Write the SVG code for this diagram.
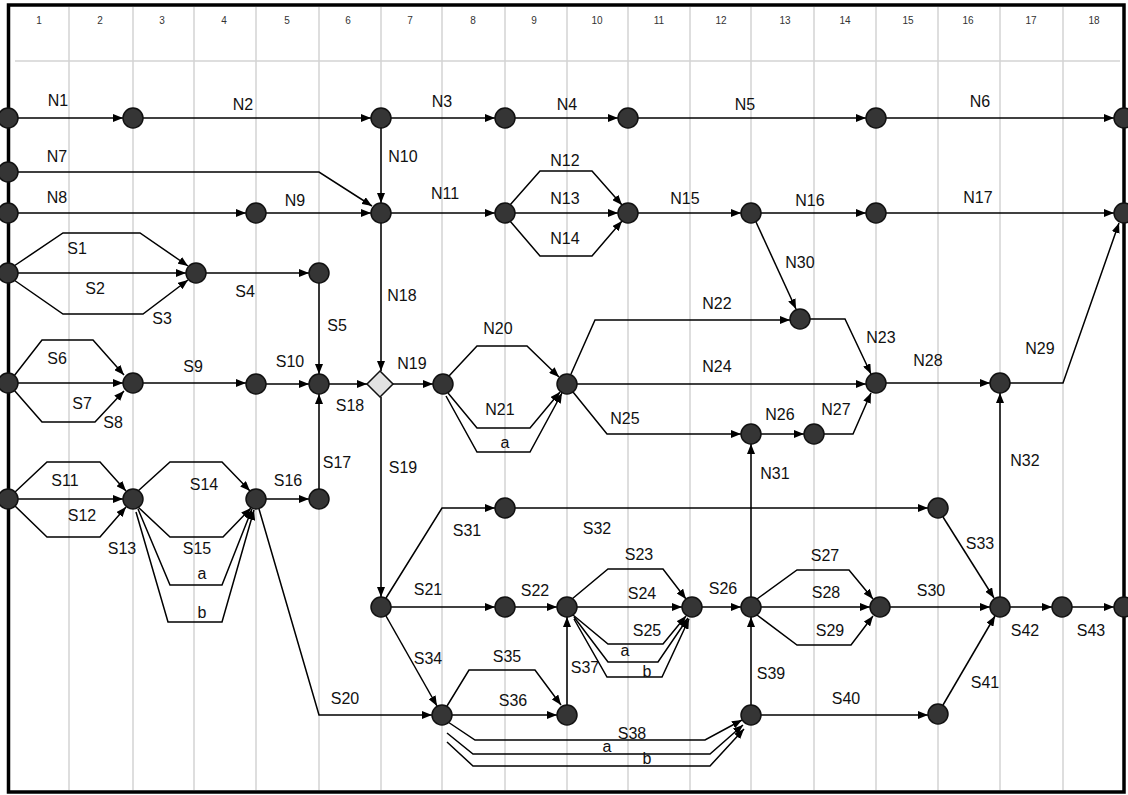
<svg xmlns="http://www.w3.org/2000/svg" width="1128" height="795" viewBox="0 0 1128 795">
<defs>
<marker id="arr" viewBox="0 0 10 8" refX="10" refY="4" markerWidth="10" markerHeight="8" markerUnits="userSpaceOnUse" orient="auto">
<path d="M0,0 L10,4 L0,8 z" fill="#000"/>
</marker>
<style>
.grid{stroke:#d4d4d4;stroke-width:1.5;fill:none}
.col{font-family:"Liberation Sans",Arial,sans-serif;font-size:10px;fill:#333;text-anchor:middle}
.e{fill:none;stroke:#000;stroke-width:1.5;marker-end:url(#arr)}
.n{fill:#353535;stroke:#111;stroke-width:1.5}
.d{fill:#e2e2e2;stroke:#111;stroke-width:1.5}
.t{font-family:"Liberation Sans",Arial,sans-serif;font-size:16px;fill:#111;text-anchor:middle}
</style>
</defs>
<rect x="0" y="0" width="1128" height="795" fill="#fff"/>
<g id="grid">
<path class="grid" d="M69,7V790M133,7V790M194,7V790M256,7V790M319,7V790M381,7V790M442,7V790M505,7V790M567,7V790M628,7V790M690,7V790M751,7V790M814,7V790M876,7V790M938,7V790M1000,7V790M1063,7V790M15,61H1120"/>
<text class="col" x="39" y="24">1</text><text class="col" x="100" y="24">2</text><text class="col" x="162" y="24">3</text><text class="col" x="224" y="24">4</text><text class="col" x="287" y="24">5</text><text class="col" x="348" y="24">6</text><text class="col" x="410" y="24">7</text><text class="col" x="473" y="24">8</text><text class="col" x="534" y="24">9</text><text class="col" x="597" y="24">10</text><text class="col" x="659" y="24">11</text><text class="col" x="721" y="24">12</text><text class="col" x="785" y="24">13</text><text class="col" x="845" y="24">14</text><text class="col" x="908" y="24">15</text><text class="col" x="968" y="24">16</text><text class="col" x="1031" y="24">17</text><text class="col" x="1094" y="24">18</text>
</g>
<rect id="frame" x="8.5" y="5" width="1115.5" height="787" fill="none" stroke="#000" stroke-width="3.5"/>
<g id="connectors">
<path class="e" d="M18,118H123"/><path class="e" d="M143,118H371"/><path class="e" d="M391,118H495"/><path class="e" d="M515,118H618"/><path class="e" d="M638,118H866"/><path class="e" d="M886,118H1114"/>
<path class="e" d="M18,172H319L372,206"/>
<path class="e" d="M18,213H246"/><path class="e" d="M266,213H371"/>
<path class="e" d="M381,128V203"/><path class="e" d="M391,213H495"/>
<path class="e" d="M510,205L540,171H592L622,205"/>
<path class="e" d="M515,213H618"/>
<path class="e" d="M510,221L540,256H592L622,221"/>
<path class="e" d="M638,213H741"/><path class="e" d="M761,213H866"/><path class="e" d="M886,213H1114"/>
<path class="e" d="M756,222L796,309"/>
<path class="e" d="M381,223V371"/>
<path class="e" d="M393,384H433"/>
<path class="e" d="M449,376L477,346H527L559,377"/>
<path class="e" d="M448,393L477,428H530L560,392"/>
<path class="e" d="M446,396L477,452H530L562,393"/>
<path class="e" d="M571,374L595,320H790"/>
<path class="e" d="M577,384H866"/>
<path class="e" d="M573,392L607,434H741"/>
<path class="e" d="M761,434H804"/>
<path class="e" d="M824,434H853L871,393"/>
<path class="e" d="M810,319H845L871,374"/>
<path class="e" d="M886,383H990"/>
<path class="e" d="M1010,383H1063L1119,223"/>
<path class="e" d="M751,597V444"/>
<path class="e" d="M1000,597V393"/>
<path class="e" d="M14,266L63,233H140L188,266"/>
<path class="e" d="M18,273H186"/>
<path class="e" d="M14,280L63,314H143L188,280"/>
<path class="e" d="M206,273H309"/>
<path class="e" d="M319,283V374"/>
<path class="e" d="M14,376L42,340H93L124,375"/>
<path class="e" d="M18,383H123"/>
<path class="e" d="M14,390L42,422H95L124,391"/>
<path class="e" d="M143,383H246"/>
<path class="e" d="M266,384H309"/>
<path class="e" d="M329,384H367"/>
<path class="e" d="M319,489V394"/>
<path class="e" d="M14,493L47,462H100L126,491"/>
<path class="e" d="M18,499H123"/>
<path class="e" d="M14,505L47,537H100L126,507"/>
<path class="e" d="M138,491L170,462H222L250,491"/>
<path class="e" d="M138,507L170,537H223L251,508"/>
<path class="e" d="M138,509L170,585H222L252,509"/>
<path class="e" d="M136,512L168,622H222L254,510"/>
<path class="e" d="M266,499H309"/>
<path class="e" d="M259,509L319,715H432"/>
<path class="e" d="M381,397V597"/>
<path class="e" d="M386,598L442,508H495"/>
<path class="e" d="M515,508H928"/>
<path class="e" d="M943,517L994,598"/>
<path class="e" d="M391,607H495"/>
<path class="e" d="M515,607H557"/>
<path class="e" d="M572,599L608,569H663L686,599"/>
<path class="e" d="M577,607H682"/>
<path class="e" d="M573,615L608,644H663L686,616"/>
<path class="e" d="M574,617L608,662H658L688,618"/>
<path class="e" d="M574,619L607,677H662L689,619"/>
<path class="e" d="M702,607H741"/>
<path class="e" d="M757,599L797,570H849L873,599"/>
<path class="e" d="M761,607H870"/>
<path class="e" d="M757,615L797,645H851L873,616"/>
<path class="e" d="M890,607H990"/>
<path class="e" d="M1010,607H1052"/>
<path class="e" d="M1072,607H1114"/>
<path class="e" d="M386,616L437,706"/>
<path class="e" d="M447,706L469,670H535L561,705"/>
<path class="e" d="M452,715H557"/>
<path class="e" d="M567,705V617"/>
<path class="e" d="M448,722L475,740H705L742,720"/>
<path class="e" d="M447,733L473,754H710L743,725"/>
<path class="e" d="M447,742L473,766H710L744,729"/>
<path class="e" d="M751,705V617"/>
<path class="e" d="M761,715H928"/>
<path class="e" d="M943,705L995,616"/>
</g>
<g id="nodes">
<circle id="a1" class="n" cx="8" cy="118" r="10"/><circle id="a2" class="n" cx="133" cy="118" r="10"/><circle id="a3" class="n" cx="381" cy="118" r="10"/><circle id="a4" class="n" cx="505" cy="118" r="10"/><circle id="a5" class="n" cx="628" cy="118" r="10"/><circle id="a6" class="n" cx="876" cy="118" r="10"/><circle id="a7" class="n" cx="1124" cy="118" r="10"/>
<circle id="b1" class="n" cx="8" cy="172" r="10"/>
<circle id="c1" class="n" cx="8" cy="213" r="10"/><circle id="c2" class="n" cx="256" cy="213" r="10"/><circle id="c3" class="n" cx="381" cy="213" r="10"/><circle id="c4" class="n" cx="505" cy="213" r="10"/><circle id="c5" class="n" cx="628" cy="213" r="10"/><circle id="c6" class="n" cx="751" cy="213" r="10"/><circle id="c7" class="n" cx="876" cy="213" r="10"/><circle id="c8" class="n" cx="1124" cy="213" r="10"/>
<circle id="d1" class="n" cx="8" cy="273" r="10"/><circle id="d2" class="n" cx="196" cy="273" r="10"/><circle id="d3" class="n" cx="319" cy="273" r="10"/>
<circle id="e1" class="n" cx="8" cy="383" r="10"/><circle id="e2" class="n" cx="133" cy="383" r="10"/><circle id="e3" class="n" cx="256" cy="384" r="10"/><circle id="e4" class="n" cx="319" cy="384" r="10"/>
<path id="e5" class="d" d="M380,371L393,384L380,397L367,384z"/>
<circle id="e6" class="n" cx="443" cy="384" r="10"/><circle id="e7" class="n" cx="567" cy="384" r="10"/><circle id="e8" class="n" cx="876" cy="383" r="10"/><circle id="e9" class="n" cx="1000" cy="383" r="10"/>
<circle id="p1" class="n" cx="800" cy="319" r="10"/>
<circle id="q1" class="n" cx="751" cy="434" r="10"/><circle id="q2" class="n" cx="814" cy="434" r="10"/>
<circle id="f1" class="n" cx="8" cy="499" r="10"/><circle id="f2" class="n" cx="133" cy="499" r="10"/><circle id="f3" class="n" cx="256" cy="499" r="10"/><circle id="f4" class="n" cx="319" cy="499" r="10"/>
<circle id="s1" class="n" cx="505" cy="508" r="10"/><circle id="s2" class="n" cx="938" cy="508" r="10"/>
<circle id="g1" class="n" cx="381" cy="607" r="10"/><circle id="g2" class="n" cx="505" cy="607" r="10"/><circle id="g3" class="n" cx="567" cy="607" r="10"/><circle id="g4" class="n" cx="692" cy="607" r="10"/><circle id="g5" class="n" cx="751" cy="607" r="10"/><circle id="g6" class="n" cx="880" cy="607" r="10"/><circle id="g7" class="n" cx="1000" cy="607" r="10"/><circle id="g8" class="n" cx="1062" cy="607" r="10"/><circle id="g9" class="n" cx="1124" cy="607" r="10"/>
<circle id="h1" class="n" cx="442" cy="715" r="10"/><circle id="h2" class="n" cx="567" cy="715" r="10"/><circle id="h3" class="n" cx="751" cy="715" r="10"/><circle id="h4" class="n" cx="938" cy="714" r="10"/>
</g>
<g id="labels">
<text class="t" x="58" y="106">N1</text><text class="t" x="243" y="110">N2</text><text class="t" x="442" y="107">N3</text><text class="t" x="567" y="110">N4</text><text class="t" x="745" y="110">N5</text><text class="t" x="980" y="107">N6</text>
<text class="t" x="57" y="162">N7</text><text class="t" x="57" y="203">N8</text><text class="t" x="295" y="206">N9</text><text class="t" x="403" y="162">N10</text><text class="t" x="445" y="199">N11</text>
<text class="t" x="565" y="166">N12</text><text class="t" x="565" y="204">N13</text><text class="t" x="565" y="244">N14</text><text class="t" x="685" y="204">N15</text><text class="t" x="810" y="206">N16</text><text class="t" x="978" y="203">N17</text>
<text class="t" x="77" y="254">S1</text><text class="t" x="95" y="294">S2</text><text class="t" x="162" y="324">S3</text><text class="t" x="245" y="297">S4</text><text class="t" x="337" y="331">S5</text>
<text class="t" x="402" y="301">N18</text><text class="t" x="800" y="268">N30</text>
<text class="t" x="57" y="364">S6</text><text class="t" x="82" y="409">S7</text><text class="t" x="113" y="428">S8</text><text class="t" x="193" y="372">S9</text><text class="t" x="290" y="367">S10</text><text class="t" x="350" y="411">S18</text><text class="t" x="337" y="468">S17</text>
<text class="t" x="412" y="369">N19</text><text class="t" x="498" y="334">N20</text><text class="t" x="500" y="415">N21</text><text class="t" x="505" y="448">a</text><text class="t" x="717" y="309">N22</text><text class="t" x="717" y="372">N24</text><text class="t" x="625" y="424">N25</text>
<text class="t" x="881" y="343">N23</text><text class="t" x="928" y="366">N28</text><text class="t" x="1040" y="354">N29</text><text class="t" x="780" y="420">N26</text><text class="t" x="836" y="415">N27</text><text class="t" x="775" y="479">N31</text><text class="t" x="1025" y="466">N32</text>
<text class="t" x="403" y="473">S19</text>
<text class="t" x="65" y="486">S11</text><text class="t" x="82" y="521">S12</text><text class="t" x="122" y="554">S13</text><text class="t" x="204" y="490">S14</text><text class="t" x="197" y="554">S15</text><text class="t" x="202" y="579">a</text><text class="t" x="202" y="618">b</text><text class="t" x="288" y="486">S16</text>
<text class="t" x="345" y="704">S20</text>
<text class="t" x="467" y="536">S31</text><text class="t" x="597" y="534">S32</text><text class="t" x="980" y="549">S33</text>
<text class="t" x="428" y="595">S21</text><text class="t" x="535" y="596">S22</text><text class="t" x="639" y="560">S23</text><text class="t" x="642" y="599">S24</text><text class="t" x="647" y="636">S25</text><text class="t" x="625" y="656">a</text><text class="t" x="647" y="677">b</text><text class="t" x="723" y="594">S26</text>
<text class="t" x="825" y="561">S27</text><text class="t" x="826" y="598">S28</text><text class="t" x="830" y="636">S29</text><text class="t" x="931" y="596">S30</text><text class="t" x="1025" y="636">S42</text><text class="t" x="1091" y="636">S43</text>
<text class="t" x="428" y="664">S34</text><text class="t" x="507" y="662">S35</text><text class="t" x="513" y="706">S36</text><text class="t" x="585" y="673">S37</text><text class="t" x="632" y="739">S38</text><text class="t" x="607" y="752">a</text><text class="t" x="647" y="764">b</text>
<text class="t" x="771" y="679">S39</text><text class="t" x="846" y="704">S40</text><text class="t" x="985" y="688">S41</text>
</g>
</svg>
